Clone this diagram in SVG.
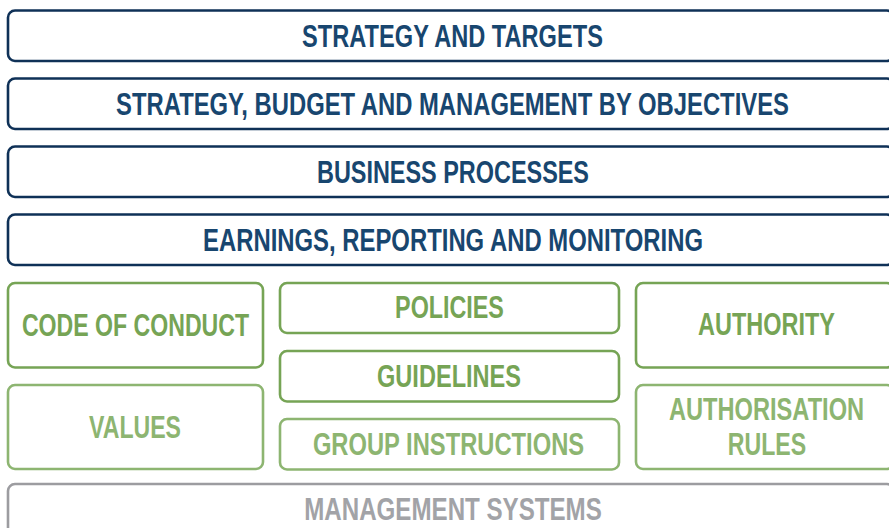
<svg xmlns="http://www.w3.org/2000/svg" width="889" height="528" viewBox="0 0 889 528">
<style>
text{font-family:"Liberation Sans",Arial,sans-serif;font-weight:bold;font-size:31px;text-anchor:middle}
.n rect{fill:#fff;stroke:#0f3157;stroke-width:2.6}
.n text{fill:#18466f}
.g rect{fill:#fff;stroke:#76a455;stroke-width:2.6}
.g text{fill:#76a455}
.l rect{fill:#fff;stroke:#8db571;stroke-width:2.6}
.l text{fill:#8db571}
.m rect{fill:#fff;stroke:#9c9ca0;stroke-width:2.6}
.m text{fill:#a2a3a7}
</style>
<g id="strategy-targets" class="n"><rect x="8" y="10.5" width="886" height="50.5" rx="7"/><text transform="translate(452.5,47) scale(0.8,1)" textLength="376" lengthAdjust="spacingAndGlyphs">STRATEGY AND TARGETS</text></g>
<g id="strategy-budget" class="n"><rect x="8" y="78.5" width="886" height="50.5" rx="7"/><text transform="translate(452.5,115) scale(0.8,1)" textLength="841" lengthAdjust="spacingAndGlyphs">STRATEGY, BUDGET AND MANAGEMENT BY OBJECTIVES</text></g>
<g id="business-processes" class="n"><rect x="8" y="146.5" width="886" height="50.5" rx="7"/><text transform="translate(453,183) scale(0.8,1)" textLength="340" lengthAdjust="spacingAndGlyphs">BUSINESS PROCESSES</text></g>
<g id="earnings" class="n"><rect x="8" y="214.5" width="886" height="50.5" rx="7"/><text transform="translate(453,251) scale(0.8,1)" textLength="625" lengthAdjust="spacingAndGlyphs">EARNINGS, REPORTING AND MONITORING</text></g>
<g id="code-of-conduct" class="g"><rect x="8" y="283" width="255" height="84.5" rx="7"/><text transform="translate(135.5,336) scale(0.8,1)" textLength="284" lengthAdjust="spacingAndGlyphs">CODE OF CONDUCT</text></g>
<g id="values" class="l"><rect x="8" y="385" width="255" height="84" rx="7"/><text transform="translate(135,438) scale(0.8,1)" textLength="115" lengthAdjust="spacingAndGlyphs">VALUES</text></g>
<g id="policies" class="g"><rect x="280" y="283" width="339" height="50" rx="7"/><text transform="translate(449.5,318) scale(0.8,1)" textLength="136" lengthAdjust="spacingAndGlyphs">POLICIES</text></g>
<g id="guidelines" class="g"><rect x="280" y="351" width="339" height="50.5" rx="7"/><text transform="translate(449,387) scale(0.8,1)" textLength="180" lengthAdjust="spacingAndGlyphs">GUIDELINES</text></g>
<g id="group-instructions" class="l"><rect x="280" y="419" width="339" height="50.5" rx="7"/><text transform="translate(448.5,455) scale(0.8,1)" textLength="339" lengthAdjust="spacingAndGlyphs">GROUP INSTRUCTIONS</text></g>
<g id="authority" class="g"><rect x="636" y="283" width="258" height="84.5" rx="7"/><text transform="translate(766.5,335) scale(0.8,1)" textLength="171" lengthAdjust="spacingAndGlyphs">AUTHORITY</text></g>
<g id="authorisation-rules" class="l"><rect x="636" y="385" width="258" height="84" rx="7"/><text transform="translate(766.5,420) scale(0.8,1)" textLength="244" lengthAdjust="spacingAndGlyphs">AUTHORISATION</text><text transform="translate(767,455) scale(0.8,1)" textLength="98" lengthAdjust="spacingAndGlyphs">RULES</text></g>
<g id="management-systems" class="m"><rect x="8" y="484" width="886" height="60" rx="7"/><text transform="translate(453,520) scale(0.8,1)" textLength="372" lengthAdjust="spacingAndGlyphs">MANAGEMENT SYSTEMS</text></g>
<g id="connectors"></g>
</svg>
